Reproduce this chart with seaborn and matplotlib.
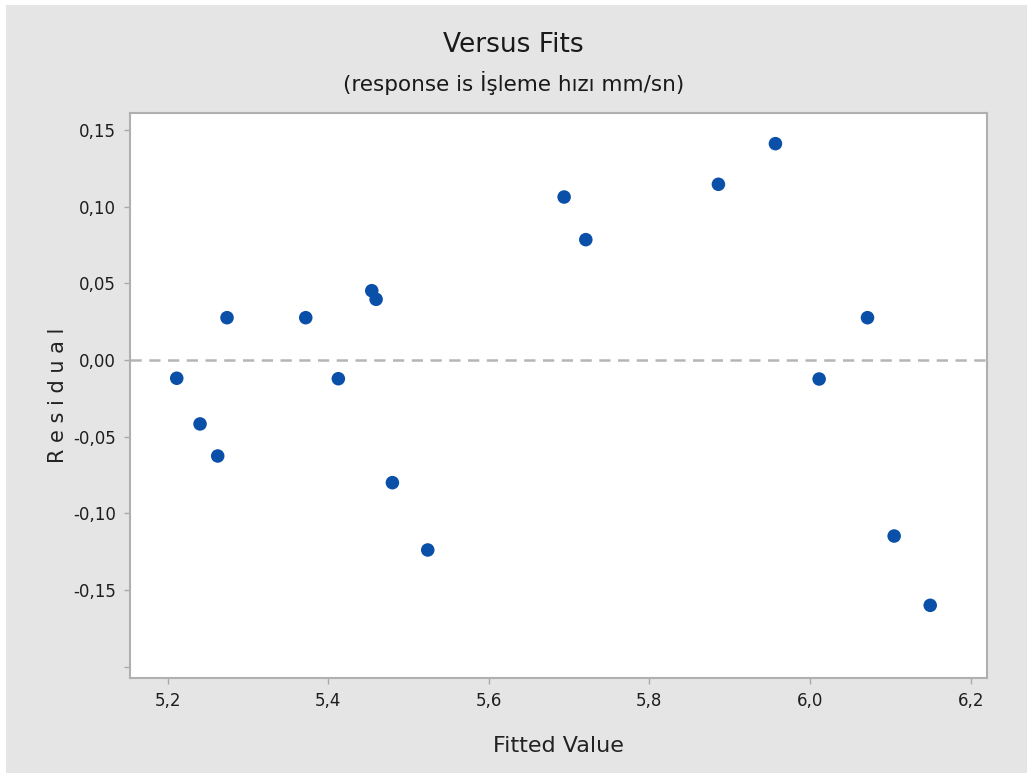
import matplotlib
matplotlib.use("Agg")
import matplotlib.pyplot as plt
from matplotlib.patches import Rectangle
from matplotlib.ticker import FixedLocator, FuncFormatter
import seaborn as sns
import pandas as pd

# Fitted values and residuals of the model
fitted = [5.2115, 5.2405, 5.2625, 5.2741, 5.3721, 5.4127, 5.4543, 5.4597, 5.4800,
          5.5240, 5.6938, 5.7208, 5.8859, 5.9569, 6.0113, 6.0715, 6.1047, 6.1496]
residual = [-0.0119, -0.0417, -0.0626, 0.0276, 0.0276, -0.0122, 0.0452, 0.0396, -0.0800,
            -0.1239, 0.1063, 0.0785, 0.1146, 0.1411, -0.0124, 0.0276, -0.1148, -0.1600]

x_ticks = [5.2, 5.4, 5.6, 5.8, 6.0, 6.2]
y_ticks = [-0.20, -0.15, -0.10, -0.05, 0.00, 0.05, 0.10, 0.15]

df = pd.DataFrame({"Fitted Value": fitted, "Residual": residual})

sns.set_theme(style="white")
FONT = ["DejaVu Sans"]
plt.rcParams["font.family"] = FONT

BG = "#e5e5e5"
fig = plt.figure(figsize=(10.27, 7.73), dpi=100, facecolor=BG)
W, H = 1027, 773
# thin white margin at the top and left of the canvas
fig.patches.append(Rectangle((0, 1 - 5 / H), 1, 5 / H, transform=fig.transFigure,
                             facecolor="white", edgecolor="none", zorder=0))
fig.patches.append(Rectangle((0, 0), 6 / W, 1, transform=fig.transFigure,
                             facecolor="white", edgecolor="none", zorder=0))

ax = fig.add_axes([130 / W, (H - 678) / H, 857 / W, 565 / H])
ax.set_facecolor("white")

ax.axhline(0, color="#b5b5b5", lw=1.8, ls=(0, (4.5, 3)), zorder=1)
sns.scatterplot(data=df, x="Fitted Value", y="Residual", ax=ax, color="#0a4fa8",
                s=95, edgecolor="none", linewidth=0, zorder=3)

ax.set_xlim(5.1533, 6.2203)
ax.set_ylim(-0.2074, 0.1611)

ax.xaxis.set_major_locator(FixedLocator(x_ticks))
ax.yaxis.set_major_locator(FixedLocator(y_ticks))
ax.xaxis.set_major_formatter(FuncFormatter(lambda v, p: f"{v:.1f}".replace(".", ",")))
ax.yaxis.set_major_formatter(
    FuncFormatter(lambda v, p: "" if v < -0.19 else f"{v:.2f}".replace(".", ",")))

for s in ax.spines.values():
    s.set_color("#b0b0b0")
    s.set_linewidth(1.5)

ax.tick_params(axis="both", which="major", direction="out", length=4, width=1,
               color="#a8a8a8", labelcolor="#1e1e1e", labelsize=12, pad=6,
               bottom=True, left=True)

ax.set_xlabel("Fitted Value", fontsize=16, color="#222222", labelpad=19)
ax.set_ylabel("R e s i d u a l", fontsize=15, color="#222222", labelpad=4)

fig.text(0.5, 1 - 45 / H, "Versus Fits", ha="center", va="center",
         fontsize=19, color="#1a1a1a")
fig.text(0.5, 1 - 83 / H, "(response is İşleme hızı mm/sn)", ha="center", va="center",
         fontsize=15.5, color="#1a1a1a")

fig.savefig("out.png", dpi=100, facecolor=fig.get_facecolor())
